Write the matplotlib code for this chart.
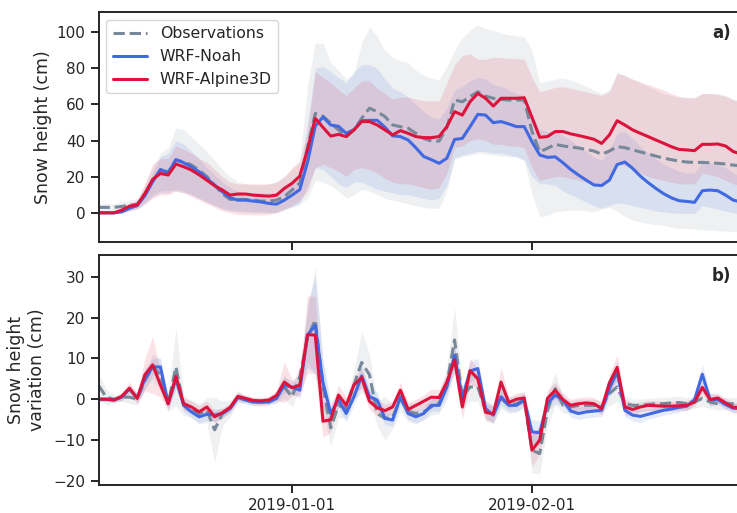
import numpy as np
import pandas as pd
import matplotlib
matplotlib.use("Agg")
import matplotlib.pyplot as plt
import matplotlib.dates as mdates
import seaborn as sns

dates = pd.date_range("2018-12-07", "2019-02-28", freq="D")

# --- snow height (cm): ensemble mean and spread ---
obs_hs = [3.0, 3.0, 3.0, 3.5, 4.2, 4.8, 10.5, 17.8, 23.6, 22.7, 29.0, 28.3, 26.5, 23.6,
          20.0, 15.3, 10.5, 7.4, 7.4, 7.4, 7.0, 6.5, 6.5, 7.0, 8.9, 12.6, 16.5, 36.0,
          55.0, 53.5, 49.6, 45.9, 42.2, 45.9, 52.3, 57.9, 56.0, 53.3, 48.6, 47.7, 46.8, 44.0,
          41.2, 39.7, 39.7, 47.0, 62.4, 61.5, 64.3, 67.0, 64.6, 63.4, 62.8, 62.4, 62.4, 62.4,
          45.0, 33.8, 35.7, 37.9, 37.0, 36.4, 35.9, 35.1, 34.2, 32.4, 34.2, 36.6, 36.1, 34.8,
          33.7, 32.6, 31.4, 30.3, 29.4, 28.6, 28.1, 27.9, 27.9, 27.7, 27.4, 27.0, 26.4, 26.0]
obs_lo = [1, 1, 1, 1.5, 2, 3, 6, 10, 12, 12.5, 12, 11, 10, 8,
          6, 4, 2, 1, 0.5, 0, 0, 0, 0, 0.5, 2, 3.5, 5, 8,
          18, 17, 15, 12, 8, 10, 13, 12, 10, 8, 7, 6, 5, 4,
          3, 2.5, 2.5, 12, 30, 31, 32, 33, 32.5, 32, 31.5, 31, 31, 29,
          10, -2, -1.5, 0.5, 1, 1.5, 1.5, 1, 0.5, 2, 3, 1, -2, -4,
          -5, -6, -6.5, -7, -8, -8.6, -8.6, -9, -9.5, -9.5, -10, -10, -10.4, -10.5]
obs_hi = [5, 5, 5, 6, 7, 8, 16, 25, 33, 36, 47, 46, 42, 38,
          34, 29, 24, 20, 17, 16, 15.5, 15.5, 16, 17, 20, 24, 28, 70,
          94, 94, 83, 79, 74, 77, 94, 103, 97.5, 90, 86, 84, 83, 79,
          76, 74.5, 73.5, 81, 90, 97, 101, 104, 102, 101, 99.5, 98.5, 98, 97.5,
          90, 72, 73, 74, 74.5, 73.5, 72, 70, 68, 66, 68, 78, 76, 74,
          72, 70, 68, 66, 65, 64, 64, 64, 66, 66, 66, 65, 63, 62]

noah_hs = [0.0, 0.0, 0.0, 0.5, 2.5, 4.0, 9.5, 17.2, 24.0, 22.0, 29.5, 27.7, 25.5, 22.7,
           19.0, 15.3, 11.6, 8.3, 7.0, 7.0, 6.5, 6.0, 5.2, 4.8, 7.0, 9.8, 12.8, 28.0,
           48.0, 53.0, 48.6, 47.9, 44.0, 46.0, 51.0, 51.2, 51.2, 47.4, 42.6, 42.2, 40.3, 36.0,
           31.2, 29.4, 27.4, 30.2, 40.6, 41.2, 47.7, 54.5, 54.1, 49.9, 50.5, 49.2, 47.7, 47.7,
           39.4, 32.0, 30.7, 31.0, 27.7, 24.0, 20.9, 18.1, 15.4, 15.1, 18.1, 26.7, 28.1, 24.6,
           20.3, 16.7, 13.5, 10.6, 8.3, 6.7, 6.3, 5.8, 12.2, 12.6, 12.2, 9.8, 7.0, 6.0]
noah_lo = [-0.5, -0.5, -0.5, 0, 1, 2, 5, 9, 11, 11, 13, 12, 10, 8,
           6, 4, 2.5, 1.5, 1, 1, 0.5, 0.5, 0, 0, 1.5, 3, 5, 15,
           25, 24, 20, 16, 14, 17, 17, 15, 13, 12, 11, 10, 10, 9,
           8, 7, 8, 15, 30, 32, 33, 34, 34, 33, 33, 32, 31, 29,
           20, 16, 16, 15, 12, 10, 8, 6, 4, 2.5, 4, 5.5, 5, 4,
           3, 2, 1, 0.5, 0, -0.3, -0.3, -0.3, 4, 3, 2, 1, 0, -0.5]
noah_hi = [1, 1, 1, 2, 3.5, 5.5, 13, 22, 31, 33, 40, 38, 34, 30,
           25, 21, 17, 14, 12, 11, 11, 11, 11, 11, 13, 16, 19, 50,
           80, 81, 78, 75, 72, 78, 82, 82, 80, 74, 69, 67, 64, 60,
           56, 53, 52, 58, 68, 70, 73, 75, 74, 71, 70, 68, 66, 65,
           55, 46, 45, 45, 43, 40, 37, 34, 31, 29, 35, 44, 45, 41,
           37, 33, 30, 27, 25, 23, 22, 22, 28, 28, 27, 25, 22, 20]

alp_hs = [0.0, 0.0, 0.0, 1.5, 3.7, 4.3, 10.7, 18.5, 21.8, 20.9, 27.0, 25.5, 23.7, 21.0,
          18.0, 15.0, 12.6, 9.8, 10.4, 10.4, 9.8, 9.5, 9.2, 9.8, 13.5, 16.3, 20.3, 35.0,
          52.3, 47.3, 42.5, 43.4, 42.2, 45.9, 50.5, 50.5, 48.6, 45.9, 43.1, 45.5, 44.0, 42.2,
          41.6, 41.6, 42.2, 47.7, 56.0, 54.1, 61.5, 66.1, 63.4, 59.1, 63.4, 63.4, 63.4, 63.7,
          52.8, 41.8, 42.2, 45.0, 45.0, 43.7, 42.8, 41.8, 40.7, 38.4, 43.1, 51.0, 48.6, 45.9,
          44.0, 42.2, 40.3, 38.5, 36.6, 35.1, 34.8, 34.4, 37.9, 37.9, 38.1, 37.0, 33.9, 32.5]
alp_lo = [-0.5, -0.5, -0.5, 0, 1, 2, 5, 8, 10, 10, 12, 11, 9, 7,
          5, 3, 1, 0, -1, -1, -1.2, -1.2, -1, 0, 2, 4, 7, 12,
          25, 27, 25, 23, 20, 24, 25, 24, 22, 19, 17, 16, 16, 15,
          14, 13, 14, 22, 36, 37, 40, 41, 40, 38, 38, 37, 37, 36,
          25, 18, 19, 20, 20, 19, 18, 17, 16, 16, 20, 27, 26, 24,
          22, 20, 19, 18, 17, 16, 16, 16, 22, 21, 20, 18, 16, 15]
alp_hi = [0.5, 0.5, 0.5, 2, 5, 7, 16, 27, 30, 30, 37, 35, 33, 30,
          28, 24, 20, 17, 16, 16, 16, 16, 16, 17, 20, 25, 29, 45,
          78, 75, 72, 68, 65, 69, 73, 73, 69, 66, 63, 64, 64, 63,
          62, 62, 62, 72, 82, 87, 88, 85, 85, 86, 86, 85.5, 85.5, 85,
          75, 67, 68, 69.5, 69.8, 69, 68, 67, 66, 65, 67, 77, 76, 74,
          72.5, 71, 69.5, 68, 66, 64.5, 63.5, 63.5, 66, 66, 65.5, 64.5, 62.5, 61]

# --- daily snow height variation (cm): mean and standard deviation ---
obs_dhs = [3.4, 0.5, 0.0, 0.5, 0.5, 0.0, 4.5, 8.0, 6.0, -1.1, 7.9, -1.5, -2.3, -3.5,
           -2.7, -7.5, -3.5, -2.3, 0.6, -0.1, -0.7, -0.7, -0.3, 0.6, 3.0, 0.6, 5.5, 15.0,
           19.4, 3.0, -7.0, -1.5, -2.3, 3.5, 9.0, 6.0, -3.5, -4.7, -4.3, 0.0, -3.0, -3.5,
           -3.1, -1.9, -1.0, 3.8, 14.5, 0.5, 3.0, 3.0, -2.7, -3.5, 0.2, -1.5, -1.1, -0.2,
           -12.5, -13.3, -2.7, 2.6, -1.5, -1.9, -1.5, -1.5, -1.5, -1.9, 1.4, 3.0, -1.1, -1.5,
           -1.5, -1.3, -1.1, -1.1, -0.9, -0.8, -1.1, -0.7, 0.2, -0.7, -1.1, -1.1, -1.1, -1.1]
obs_dsd = [3, 2, 1, 1, 1.5, 1.5, 2, 3, 4, 2, 9.5, 2.5, 2, 2.5,
           3, 8, 3, 2, 1.5, 1, 1, 1, 1, 1.5, 3, 2.5, 3, 6,
           13, 6, 4.5, 3, 2.5, 3.5, 7.5, 5, 3, 5.3, 3, 3, 2.5, 2.5,
           2, 2, 2.5, 4, 8, 3, 3.5, 3.5, 2.5, 2.5, 2.5, 2, 2, 2,
           5.5, 5, 4, 4, 2, 1.5, 1.5, 1.5, 1.5, 1.5, 3, 3.5, 2, 1.5,
           1.5, 1.5, 1.5, 1.5, 1.5, 1.5, 1.5, 1.5, 2, 1.5, 1.5, 1.5, 1.5, 1.5]

noah_dhs = [0.0, 0.0, -0.2, 0.5, 2.5, 0.3, 5.0, 7.9, 7.9, -1.1, 5.0, -1.5, -3.1, -4.3,
            -3.7, -3.9, -3.5, -2.3, 0.4, -0.2, -0.7, -0.7, -0.7, 0.2, 3.4, 3.0, 2.2, 15.7,
            18.1, 4.0, -3.5, -0.1, -3.5, 0.6, 5.7, 0.6, -0.2, -4.7, -5.1, 0.6, -3.5, -4.3,
            -3.5, -1.5, -1.5, 3.0, 10.8, 0.2, 6.9, 7.5, -2.3, -3.9, 0.6, -1.5, -1.5, -0.2,
            -8.0, -8.2, -1.0, 1.0, -0.2, -2.9, -3.5, -3.1, -2.9, -2.7, 2.6, 6.7, -2.7, -3.9,
            -4.2, -3.7, -3.2, -2.7, -2.4, -2.0, -1.7, -0.1, 6.1, -0.1, -0.1, -1.3, -2.2, -2.3]
noah_dsd = [0.8, 0.5, 0.5, 0.8, 1, 1.2, 2.5, 2, 2, 1.5, 2.5, 1.5, 1.5, 1.5,
            1.5, 1.5, 1.2, 1, 1, 0.8, 0.8, 0.8, 0.8, 1, 2, 1.5, 2, 8,
            12, 6, 2.5, 2, 2, 2, 2.5, 2, 2, 1.5, 1.5, 2, 1.5, 1.5,
            1.5, 1.5, 1.5, 2, 3, 2, 2.5, 2.5, 2, 2, 2, 1.5, 1.5, 1.5,
            3, 3, 2, 2, 1.5, 1.5, 1.5, 1.5, 1.5, 1.5, 2, 2.5, 1.5, 1.5,
            1.5, 1.2, 1.2, 1.2, 1.2, 1.2, 1, 1, 2.5, 1.5, 1.2, 1.2, 1.2, 1.2]

alp_dhs = [0.0, 0.0, -0.2, 0.7, 2.7, 0.2, 6.0, 8.4, 3.5, -1.1, 5.6, -1.1, -1.9, -3.1,
           -1.9, -4.3, -3.3, -2.0, 0.7, 0.2, -0.3, -0.4, -0.2, 0.9, 4.2, 2.8, 3.4, 15.8,
           15.7, -5.4, -5.0, 1.0, -1.5, 3.5, 5.3, -0.5, -2.1, -2.8, -1.9, 2.2, -2.5, -1.5,
           -0.5, 0.5, 0.4, 4.2, 9.6, -1.9, 7.0, 5.0, -3.2, -3.6, 4.2, -0.8, 0.0, 0.3,
           -12.5, -10.0, 0.2, 2.2, -0.1, -1.5, -1.1, -0.9, -1.1, -2.3, 4.0, 7.8, -1.9, -2.5,
           -1.9, -1.5, -1.6, -1.7, -1.7, -1.6, -1.5, -0.7, 2.9, -0.1, 0.3, -0.9, -2.0, -2.0]
alp_dsd = [0.5, 0.5, 0.5, 1, 1.5, 1.2, 4, 7, 3, 1.5, 2.5, 1.5, 1.5, 1.5,
           1.5, 1.5, 1.2, 1, 1, 0.8, 0.8, 0.8, 0.8, 1.2, 5, 2, 2.5, 9.5,
           9.5, 4, 3, 2.5, 2, 2, 2.5, 2, 2, 1.5, 1.5, 2, 1.5, 1.5,
           1.5, 2, 2, 2, 3, 3, 3, 2.5, 2, 2, 3.5, 1.5, 1.5, 1.5,
           4, 3.5, 2, 2, 1.5, 1.5, 1.5, 1.5, 1.5, 1.5, 2, 3, 2, 1.5,
           1.2, 1.2, 1.2, 1.2, 1.2, 1.2, 1.2, 1, 1.5, 1.5, 1.2, 1.2, 1.2, 1.2]

OBS_C = "#778899"
NOAH_C = "royalblue"
ALP_C = "crimson"

sns.set_style("ticks")
plt.rcParams.update({
    "font.family": ["DejaVu Sans"],
    "font.size": 11,
    "axes.linewidth": 1.4,
    "axes.edgecolor": ".15",
    "axes.labelsize": 12.5,
    "xtick.major.width": 1.4,
    "ytick.major.width": 1.4,
    "xtick.major.size": 6,
    "ytick.major.size": 6,
    "xtick.labelsize": 11,
    "ytick.labelsize": 11,
})

fig = plt.figure(figsize=(7.37, 5.13), dpi=100)
left, width = 98.5 / 737, (741 - 98.5) / 737
ax1 = fig.add_axes([left, 1 - 241.7 / 513, width, 229.4 / 513])
ax2 = fig.add_axes([left, 1 - 485 / 513, width, 230 / 513])


def series(ax, mean, lo, hi, color, label, ls="-"):
    ax.fill_between(dates, lo, hi, color=color, alpha=0.12, lw=0)
    return ax.plot(dates, mean, color=color, ls=ls, lw=2.2, label=label)


# a) snow height
series(ax1, obs_hs, obs_lo, obs_hi, OBS_C, "Observations", ls="--")
series(ax1, noah_hs, noah_lo, noah_hi, NOAH_C, "WRF-Noah")
series(ax1, alp_hs, alp_lo, alp_hi, ALP_C, "WRF-Alpine3D")
ax1.set_ylim(-16, 111)
ax1.set_yticks([0, 20, 40, 60, 80, 100])
ax1.set_ylabel("Snow height (cm)")
ax1.legend(loc="upper left", fontsize=11.3, handlelength=2.2)
ax1.tick_params(axis="x", labelbottom=False)

# b) daily variation
for mean, sd, color, ls in [(obs_dhs, obs_dsd, OBS_C, "--"),
                            (noah_dhs, noah_dsd, NOAH_C, "-"),
                            (alp_dhs, alp_dsd, ALP_C, "-")]:
    m, s = np.asarray(mean), np.asarray(sd)
    series(ax2, m, m - s, m + s, color, None, ls=ls)
ax2.set_ylim(-21, 35.3)
ax2.set_yticks([-20, -10, 0, 10, 20, 30])
ax2.set_ylabel("Snow height\nvariation (cm)")

for ax, tag in [(ax1, "a)"), (ax2, "b)")]:
    ax.set_xlim(dates[0], dates[-1])
    ax.xaxis.set_major_locator(mdates.MonthLocator())
    ax.xaxis.set_major_formatter(mdates.DateFormatter("%Y-%m-%d"))
    ax.text(0.984, 0.91, tag, transform=ax.transAxes, ha="right", va="center",
            fontsize=12, fontweight="bold", color=".15")

ax1.yaxis.set_label_coords(-0.072, 0.5)
ax2.yaxis.set_label_coords(-0.082, 0.5)

fig.savefig("out.png", dpi=100)
